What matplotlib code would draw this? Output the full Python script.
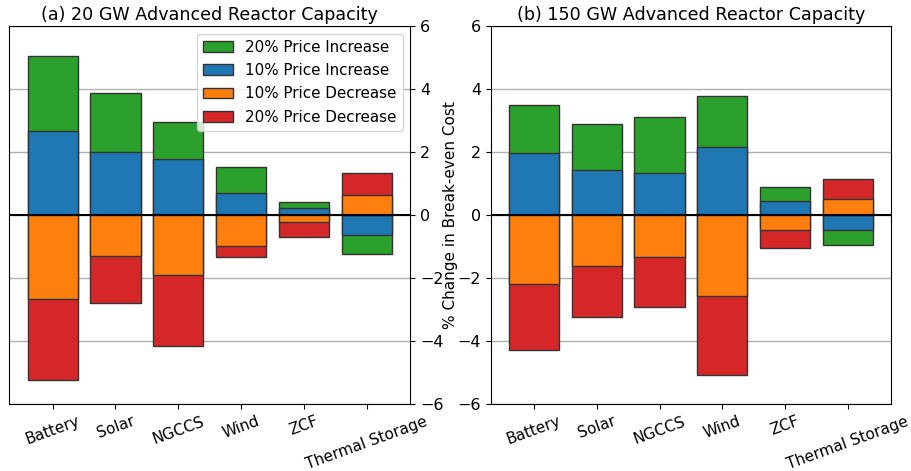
import matplotlib
matplotlib.use("Agg")
import matplotlib.pyplot as plt
import numpy as np

categories = ["Battery", "Solar", "NGCCS", "Wind", "ZCF", "Thermal Storage"]

# (a) 20 GW
a_inc20 = [5.06, 3.87, 2.94, 1.52, 0.40, -1.25]
a_inc10 = [2.67, 1.99, 1.77, 0.69, 0.21, -0.64]
a_dec10 = [-2.67, -1.29, -1.92, -0.98, -0.22, 0.63]
a_dec20 = [-5.25, -2.78, -4.15, -1.32, -0.69, 1.32]

# (b) 150 GW
b_inc20 = [3.48, 2.89, 3.10, 3.79, 0.88, -0.95]
b_inc10 = [1.97, 1.44, 1.32, 2.16, 0.45, -0.48]
b_dec10 = [-2.18, -1.63, -1.33, -2.58, -0.49, 0.52]
b_dec20 = [-4.28, -3.24, -2.92, -5.07, -1.04, 1.15]

titles = ["(a) 20 GW Advanced Reactor Capacity", "(b) 150 GW Advanced Reactor Capacity"]
labels = ["20% Price Increase", "10% Price Increase", "10% Price Decrease", "20% Price Decrease"]
colors = ["#2ca02c", "#1f77b4", "#ff7f0e", "#d62728"]

fig = plt.figure(figsize=(9.12, 4.71), dpi=100)
ax1 = fig.add_axes([0.0102, 0.1423, 0.4395, 0.8025])
ax2 = fig.add_axes([0.538, 0.1423, 0.4393, 0.8025])

x = np.arange(len(categories))
legend_handles = None
for ax, data, title in [(ax1, (a_inc20, a_inc10, a_dec10, a_dec20), titles[0]),
                        (ax2, (b_inc20, b_inc10, b_dec10, b_dec20), titles[1])]:
    ax.grid(axis="y", color="#b0b0b0", linewidth=1, zorder=0)
    ax.set_axisbelow(True)
    handles = {}
    # draw outer (20%) bars first, then inner (10%) bars on top
    for idx in [0, 1, 3, 2]:
        handles[idx] = ax.bar(x, data[idx], width=0.8, color=colors[idx],
                              edgecolor="#333333", linewidth=1, label=labels[idx], zorder=2)
    ax.axhline(0, color="black", linewidth=1.5, zorder=3)
    ax.set_ylim(-6, 6)
    ax.set_yticks([-6, -4, -2, 0, 2, 4, 6])
    ax.set_xticks(x)
    ax.set_xticklabels(categories, rotation=20, fontsize=11)
    ax.tick_params(axis="y", labelsize=11.5)
    ax.set_title(title, fontsize=12.6, pad=4)
    if legend_handles is None:
        legend_handles = [handles[i] for i in range(4)]

ax1.yaxis.tick_right()
ax1.yaxis.set_label_position("right")
ax1.set_ylabel("% Change in Break-even Cost", fontsize=11, labelpad=0)
ax1.legend(legend_handles, labels, loc="upper right", fontsize=10.9,
           handlelength=2.0, labelspacing=0.55)

fig.savefig("out.png", dpi=100)
